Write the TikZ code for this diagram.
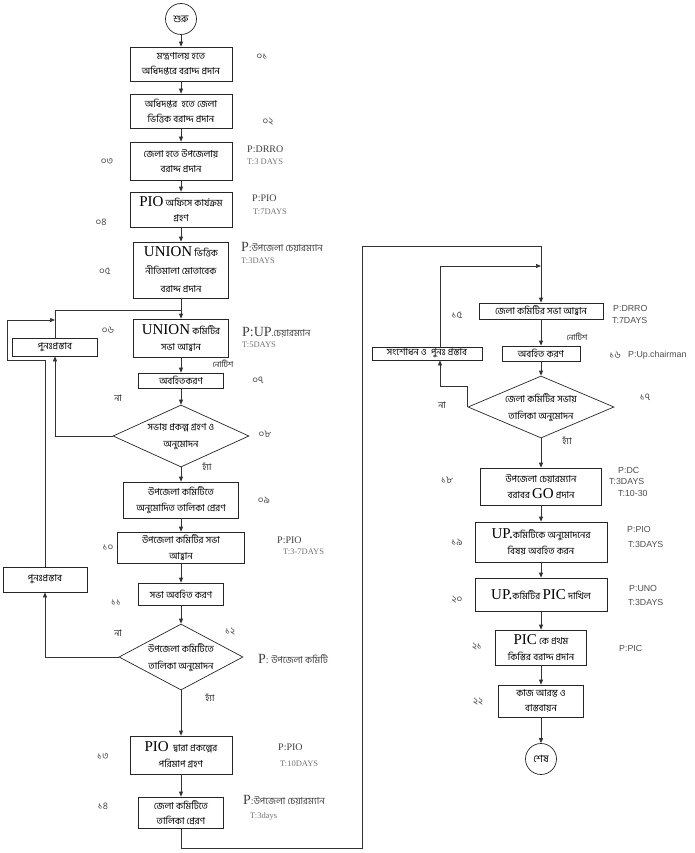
\documentclass[tikz,border=0pt]{standalone}
\usepackage{fontspec}
\newfontfamily\bn[Script=Bengali]{Hind Siliguri}
\newfontfamily\tnr{Liberation Serif}
\newfontfamily\arl{Liberation Sans}
\usetikzlibrary{arrows.meta,shapes.geometric,calc}
\newcommand{\LT}[1]{{\tnr\fontsize{15}{15}\selectfont #1}}
\newcommand{\PB}[1]{{\tnr\fontsize{14}{14}\selectfont #1}}
\newcommand{\bnsmall}{\bn\fontsize{8}{8}\selectfont}
\newcommand{\bnlab}{\bn\fontsize{9.5}{9.5}\selectfont}
\tikzset{
  box/.style={draw=black!85, line width=0.7pt, fill=white, align=center, inner sep=1pt,
    font=\bn\fontsize{9.5}{15.5}\selectfont},
  dia/.style={draw=black!85, line width=0.7pt, diamond, inner sep=0pt},
  diatext/.style={align=center, inner sep=0pt, font=\bn\fontsize{9.5}{17}\selectfont},
  term/.style={draw=black!85, line width=0.7pt, circle, minimum size=31pt, inner sep=0pt,
    font=\bn\fontsize{10}{10}\selectfont},
  num/.style={font=\bn\fontsize{10}{10}\selectfont, text=black!70, inner sep=0pt},
  yn/.style={font=\bn\fontsize{9}{9}\selectfont, text=black!85, inner sep=0pt},
  pl/.style={font=\tnr\fontsize{10}{10}\selectfont, text=black!75, anchor=west, inner sep=0pt},
  tl/.style={font=\tnr\fontsize{8.5}{8.5}\selectfont, text=black!55, anchor=west, inner sep=0pt},
  ra/.style={font=\arl\fontsize{8.8}{8.8}\selectfont, text=black!70, anchor=west, inner sep=0pt},
  ar/.style={-{Triangle[length=5pt,width=4pt]}, line width=0.7pt, draw=black!80},
  ln/.style={line width=0.7pt, draw=black!80},
}
\begin{document}
\begin{tikzpicture}[x=1pt,y=-1pt]
\useasboundingbox (0,0) rectangle (695,853);
% ---------- left column ----------
\node[term] (st) at (181,19) {শুরু};
\node[box, minimum width=102pt, minimum height=34pt] (b01) at (181,64) {মন্ত্রণালয় হতে\\অধিদপ্তরে বরাদ্দ প্রদান};
\node[box, minimum width=102pt, minimum height=34pt] (b02) at (181,111) {অধিদপ্তর \ হতে জেলা\\ভিত্তিক বরাদ্দ প্রদান};
\node[box, minimum width=102pt, minimum height=38pt] (b03) at (181,161) {জেলা হতে উপজেলায়\\বরাদ্দ প্রদান};
\node[box, minimum width=102pt, minimum height=35pt] (b04) at (181,209.5) {\LT{PIO} অফিসে কার্যক্রম\\গ্রহণ};
\node[box, minimum width=95pt, minimum height=56pt, font=\bn\fontsize{9.5}{18}\selectfont] (b05) at (181,270) {\LT{UNION} ভিত্তিক\\নীতিমালা মোতাবেক\\বরাদ্দ প্রদান};
\node[box, minimum width=95pt, minimum height=38pt] (b06) at (181,338) {\LT{UNION} কমিটির\\সভা আহ্বান};
\node[box, minimum width=85pt, minimum height=15pt, inner sep=0pt] (b07) at (181,380.5) {অবহিতকরণ};
\node[dia, minimum width=136pt, minimum height=62pt] (d08) at (181,436) {};
\node[diatext] (d08t) at (181,437) {সভায় প্রকল্প গ্রহণ ও\\অনুমোদন};
\node[box, minimum width=115pt, minimum height=36pt] (b09) at (181,500) {উপজেলা কমিটিতে\\অনুমোদিত তালিকা প্রেরণ};
\node[box, minimum width=127pt, minimum height=31pt] (b10) at (181,547.5) {উপজেলা কমিটির সভা\\আহ্বান};
\node[box, minimum width=85pt, minimum height=22pt] (b11) at (181,594) {সভা অবহিত করণ};
\node[dia, minimum width=124pt, minimum height=66pt] (d12) at (181,657) {};
\node[diatext] (d12t) at (181,658) {উপজেলা কমিটিতে\\তালিকা অনুমোদন};
\node[box, minimum width=102pt, minimum height=38pt] (b13) at (181,755) {\LT{PIO} \ দ্বারা প্রকল্পের\\পরিমাপ গ্রহণ};
\node[box, minimum width=85pt, minimum height=31pt] (b14) at (181,812.5) {জেলা কমিটিতে\\তালিকা প্রেরণ};
\node[box, minimum width=85pt, minimum height=18pt, inner sep=0pt] (rp1) at (55,347) {পুনঃপ্রস্তাব};
\node[box, minimum width=84pt, minimum height=25pt] (rp2) at (45,579.5) {পুনঃপ্রস্তাব};
% ---------- right column ----------
\node[box, minimum width=124pt, minimum height=16pt, inner sep=0pt] (b15) at (541,311) {জেলা কমিটির সভা আহ্বান};
\node[box, minimum width=110pt, minimum height=13pt, inner sep=0pt] (rv) at (427,353.5) {সংশোধন ও \ পুনঃ প্রস্তাব};
\node[box, minimum width=78pt, minimum height=15pt, inner sep=0pt] (b16) at (541,353.5) {অবহিত করণ};
\node[dia, minimum width=146pt, minimum height=62pt] (d17) at (541,407) {};
\node[diatext] (d17t) at (541,408) {জেলা কমিটির সভায়\\তালিকা অনুমোদন};
\node[box, minimum width=121pt, minimum height=37pt] (b18) at (541,486.5) {উপজেলা চেয়ারম্যান\\বরাবর \LT{GO} প্রদান};
\node[box, minimum width=132pt, minimum height=40pt] (b19) at (541,542) {\LT{UP.}কমিটিকে অনুমোদনের\\বিষয় অবহিত করন};
\node[box, minimum width=132pt, minimum height=33pt] (b20) at (541,594.5) {\LT{UP.}কমিটির \LT{PIC} দাখিল};
\node[box, minimum width=91pt, minimum height=35pt] (b21) at (541,647.5) {\LT{PIC} কে প্রথম\\কিস্তির বরাদ্দ প্রদান};
\node[box, minimum width=85pt, minimum height=32pt] (b22) at (541,701) {কাজ আরম্ভ ও\\বাস্তবায়ন};
\node[term] (en) at (541,759) {শেষ};
% ---------- helper coordinates ----------
\coordinate (j1) at (181,310);
\coordinate (c1) at (7,360);
\coordinate (c2) at (55,320);
\coordinate (c3) at (362,848);
\coordinate (c4) at (362,246);
\coordinate (xr) at (440,0);
\coordinate (j2) at (541,266);
\coordinate (c5) at (440,386);
% ---------- connectors ----------
\draw[ar] (st) -- (b01);
\draw[ar] (b01) -- (b02);
\draw[ar] (b02) -- (b03);
\draw[ar] (b03) -- (b04);
\draw[ar] (b04) -- (b05);
\draw[ar] (b05) -- (b06);
\draw[ln] (rp1.north) |- (j1);
\draw[ar] (b06) -- (b07);
\draw[ar] (b07) -- (d08.north);
\draw[ar] (d08.west) -| (rp1.south);
\draw[ar] (d08.south) -- (b09);
\draw[ar] (b09) -- (b10);
\draw[ar] (b10) -- (b11);
\draw[ar] (b11) -- (d12.north);
\draw[ar] (d12.west) -| (rp2.south);
\draw[ar] (rp2.north) |- (c1) |- (c2);
\draw[ar] (d12.south) -- (b13);
\draw[ar] (b13) -- (b14);
\draw[ar] (b14.south) |- (c3) -- (c4) -| (b15.north);
\draw[ar] (rv.north -| xr) |- (j2);
\draw[ar] (b15) -- (b16);
\draw[ar] (b16) -- (d17.north);
\draw[ar] (d17.west) |- (c5) -- (rv.south -| xr);
\draw[ar] (d17.south) -- (b18);
\draw[ar] (b18) -- (b19);
\draw[ar] (b19) -- (b20);
\draw[ar] (b20) -- (b21);
\draw[ar] (b21) -- (b22);
\draw[ar] (b22) -- (en);
% ---------- step numbers ----------
\node[num] (n01) at (262,57) {০১};
\node[num] (n02) at (268,122) {০২};
\node[num] (n03) at (107,162) {০৩};
\node[num] (n04) at (101,222) {০৪};
\node[num] (n05) at (105,271) {০৫};
\node[num] (n06) at (108,330) {০৬};
\node[num] (n07) at (258,380) {০৭};
\node[num] (n08) at (265,434) {০৮};
\node[num] (n09) at (264,500) {০৯};
\node[num] (n10) at (108,548) {১০};
\node[num] (n11) at (116,603) {১১};
\node[num] (n12) at (230,632) {১২};
\node[num] (n13) at (103,757) {১৩};
\node[num] (n14) at (103,806) {১৪};
\node[num] (n15) at (457,315) {১৫};
\node[num] (n16) at (615,355) {১৬};
\node[num] (n17) at (645,397) {১৭};
\node[num] (n18) at (447,480) {১৮};
\node[num] (n19) at (457,542) {১৯};
\node[num] (n20) at (457,600) {২০};
\node[num] (n21) at (477,647) {২১};
\node[num] (n22) at (478,702) {২২};
% ---------- yes / no / notice ----------
\node[yn, font=\bnsmall] (nt1) at (223,364) {নোটিশ};
\node[yn] (no1) at (118,398) {না};
\node[yn] (ys1) at (207,467) {হ্যাঁ};
\node[yn] (no2) at (118,633) {না};
\node[yn] (ys2) at (210,698) {হ্যাঁ};
\node[yn, font=\bnsmall] (nt2) at (577,337) {নোটিশ};
\node[yn] (no3) at (442,405) {না};
\node[yn] (ys3) at (567,441) {হ্যাঁ};
% ---------- P / T labels, left ----------
\node[pl] (p03) at (247,149) {P:DRRO};
\node[tl] (t03) at (247,162) {T:3 DAYS};
\node[pl] (p04) at (252,198) {P:PIO};
\node[tl] (t04) at (253,212) {T:7DAYS};
\node[pl] (p05) at (241,247) {\PB{P}:{\bnlab উপজেলা চেয়ারম্যান}};
\node[tl] (t05) at (241,261) {T:3DAYS};
\node[pl] (p06) at (242,332) {\PB{P:UP}{\bnlab .চেয়ারম্যান}};
\node[tl] (t06) at (242,345) {T:5DAYS};
\node[pl] (p10) at (277,540) {P:PIO};
\node[tl] (t10) at (283,552) {T:3-7DAYS};
\node[pl] (p12) at (258,659) {\PB{P}: {\bnlab উপজেলা কমিটি}};
\node[pl] (p13) at (278,747) {P:PIO};
\node[tl] (t13) at (280,764) {T:10DAYS};
\node[pl] (p14) at (243,800) {\PB{P}:{\bnlab উপজেলা চেয়ারম্যান}};
\node[tl] (t14) at (250,816) {T:3days};
% ---------- P / T labels, right ----------
\node[ra] (p15) at (613,308) {P:DRRO};
\node[ra] (t15) at (612,320) {T:7DAYS};
\node[ra] (p16) at (628,355) {P:Up.chairman};
\node[ra] (p18) at (618,470) {P:DC};
\node[ra] (t18) at (609,481) {T:3DAYS};
\node[ra] (u18) at (618,493) {T:10-30};
\node[ra] (p19) at (627,529) {P:PIO};
\node[ra] (t19) at (628,544) {T:3DAYS};
\node[ra] (p20) at (629,588) {P:UNO};
\node[ra] (t20) at (628,602) {T:3DAYS};
\node[ra] (p21) at (619,648) {P:PIC};
\end{tikzpicture}
\end{document}
